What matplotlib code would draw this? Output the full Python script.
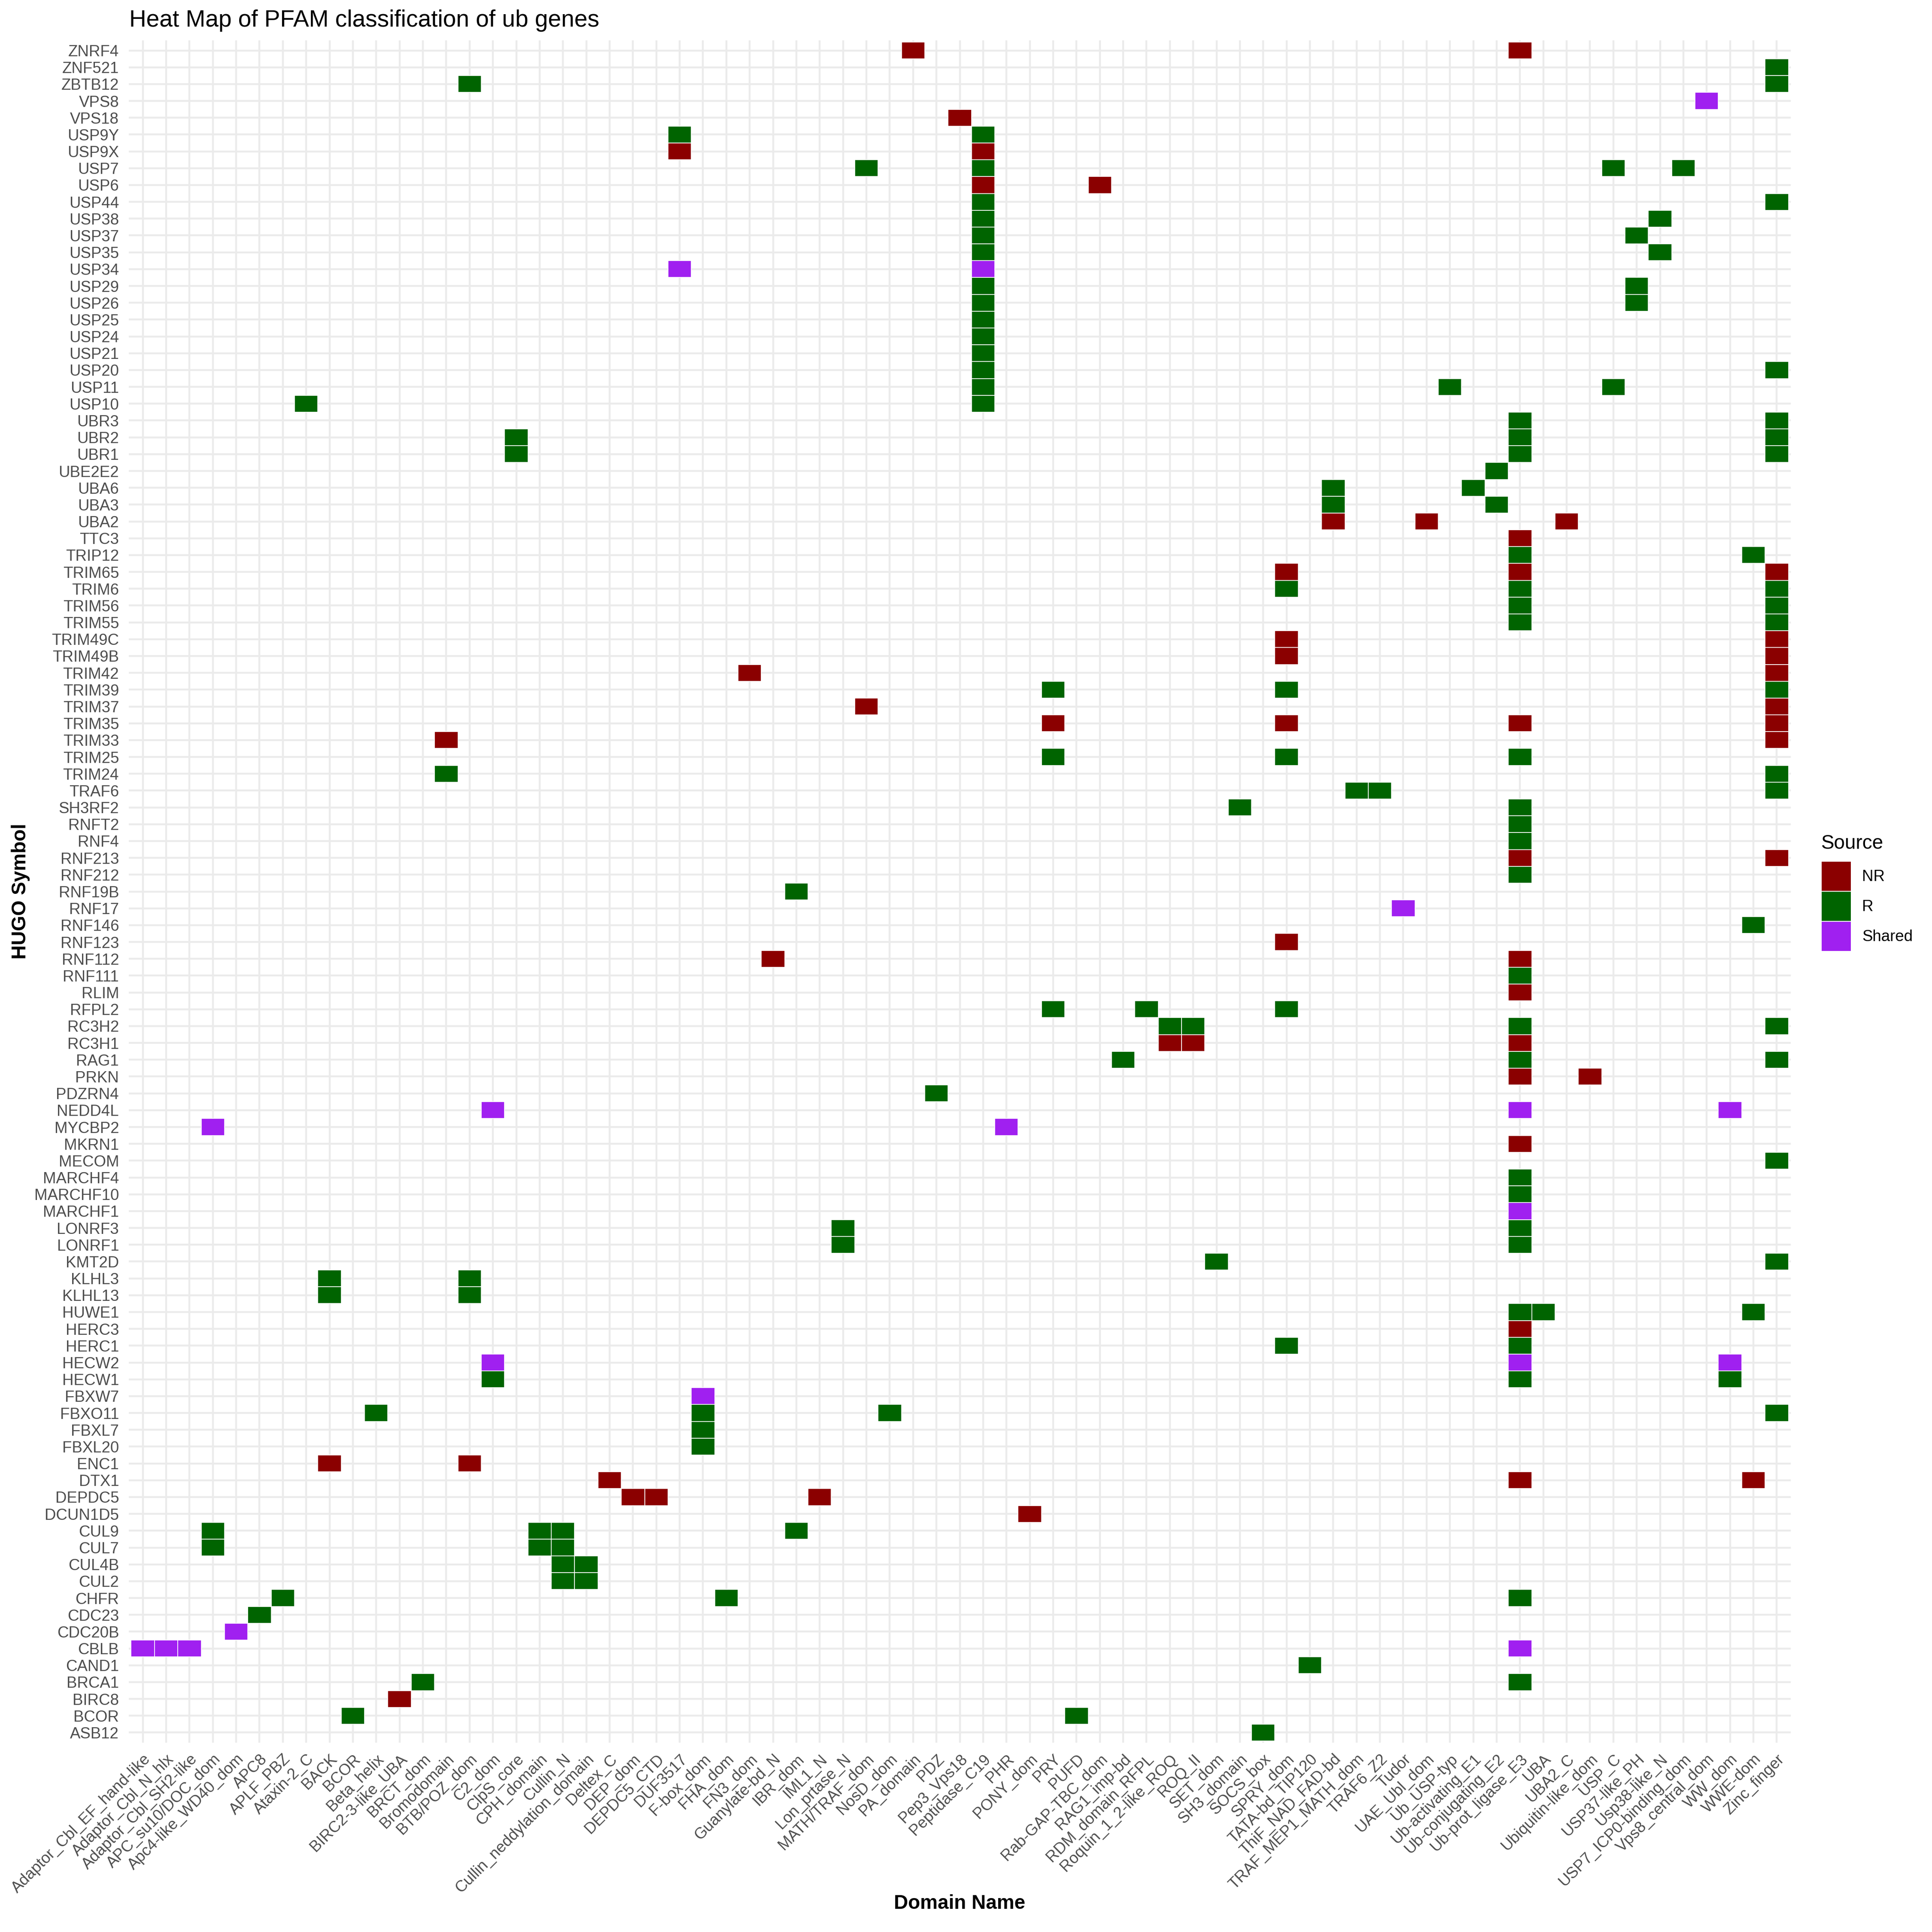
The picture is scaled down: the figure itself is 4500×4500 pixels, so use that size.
import matplotlib
matplotlib.use('Agg')
import matplotlib.pyplot as plt
from matplotlib.patches import Patch

plt.rcParams['font.family'] = ['Liberation Sans', 'DejaVu Sans']

# gene symbols, top row first
genes = ['ZNRF4', 'ZNF521', 'ZBTB12', 'VPS8', 'VPS18', 'USP9Y', 'USP9X', 'USP7', 'USP6', 'USP44',
         'USP38', 'USP37', 'USP35', 'USP34', 'USP29', 'USP26', 'USP25', 'USP24', 'USP21', 'USP20',
         'USP11', 'USP10', 'UBR3', 'UBR2', 'UBR1', 'UBE2E2', 'UBA6', 'UBA3', 'UBA2', 'TTC3',
         'TRIP12', 'TRIM65', 'TRIM6', 'TRIM56', 'TRIM55', 'TRIM49C', 'TRIM49B', 'TRIM42', 'TRIM39', 'TRIM37',
         'TRIM35', 'TRIM33', 'TRIM25', 'TRIM24', 'TRAF6', 'SH3RF2', 'RNFT2', 'RNF4', 'RNF213', 'RNF212',
         'RNF19B', 'RNF17', 'RNF146', 'RNF123', 'RNF112', 'RNF111', 'RLIM', 'RFPL2', 'RC3H2', 'RC3H1',
         'RAG1', 'PRKN', 'PDZRN4', 'NEDD4L', 'MYCBP2', 'MKRN1', 'MECOM', 'MARCHF4', 'MARCHF10', 'MARCHF1',
         'LONRF3', 'LONRF1', 'KMT2D', 'KLHL3', 'KLHL13', 'HUWE1', 'HERC3', 'HERC1', 'HECW2', 'HECW1',
         'FBXW7', 'FBXO11', 'FBXL7', 'FBXL20', 'ENC1', 'DTX1', 'DEPDC5', 'DCUN1D5', 'CUL9', 'CUL7',
         'CUL4B', 'CUL2', 'CHFR', 'CDC23', 'CDC20B', 'CBLB', 'CAND1', 'BRCA1', 'BIRC8', 'BCOR', 'ASB12']

domains = ['Adaptor_Cbl_EF_hand-like', 'Adaptor_Cbl_N_hlx', 'Adaptor_Cbl_SH2-like', 'APC_su10/DOC_dom',
           'Apc4-like_WD40_dom', 'APC8', 'APLF_PBZ', 'Ataxin-2_C', 'BACK', 'BCOR', 'Beta_helix',
           'BIRC2-3-like_UBA', 'BRCT_dom', 'Bromodomain', 'BTB/POZ_dom', 'C2_dom', 'ClpS_core',
           'CPH_domain', 'Cullin_N', 'Cullin_neddylation_domain', 'Deltex_C', 'DEP_dom', 'DEPDC5_CTD',
           'DUF3517', 'F-box_dom', 'FHA_dom', 'FN3_dom', 'Guanylate-bd_N', 'IBR_dom', 'IML1_N',
           'Lon_prtase_N', 'MATH/TRAF_dom', 'NosD_dom', 'PA_domain', 'PDZ', 'Pep3_Vps18', 'Peptidase_C19',
           'PHR', 'PONY_dom', 'PRY', 'PUFD', 'Rab-GAP-TBC_dom', 'RAG1_imp-bd', 'RDM_domain_RFPL',
           'Roquin_1_2-like_ROQ', 'ROQ_II', 'SET_dom', 'SH3_domain', 'SOCS_box', 'SPRY_dom',
           'TATA-bd_TIP120', 'ThiF_NAD_FAD-bd', 'TRAF_MEP1_MATH_dom', 'TRAF6_Z2', 'Tudor', 'UAE_Ubl_dom',
           'Ub_USP-typ', 'Ub-activating_E1', 'Ub-conjugating_E2', 'Ub-prot_ligase_E3', 'UBA', 'UBA2_C',
           'Ubiquitin-like_dom', 'USP_C', 'USP37-like_PH', 'Usp38-like_N', 'USP7_ICP0-binding_dom',
           'Vps8_central_dom', 'WW_dom', 'WWE-dom', 'Zinc_finger']

E3 = 'Ub-prot_ligase_E3'
ZF = 'Zinc_finger'
C19 = 'Peptidase_C19'

nr_cells = [
    ('ZNRF4', 'PA_domain'), ('ZNRF4', E3), ('VPS18', 'Pep3_Vps18'),
    ('USP9X', 'DUF3517'), ('USP9X', C19), ('USP6', C19), ('USP6', 'Rab-GAP-TBC_dom'),
    ('UBA2', 'ThiF_NAD_FAD-bd'), ('UBA2', 'UAE_Ubl_dom'), ('UBA2', 'UBA2_C'), ('TTC3', E3),
    ('TRIM65', 'SPRY_dom'), ('TRIM65', E3), ('TRIM65', ZF),
    ('TRIM49C', 'SPRY_dom'), ('TRIM49C', ZF), ('TRIM49B', 'SPRY_dom'), ('TRIM49B', ZF),
    ('TRIM42', 'FN3_dom'), ('TRIM42', ZF), ('TRIM37', 'MATH/TRAF_dom'), ('TRIM37', ZF),
    ('TRIM35', 'PRY'), ('TRIM35', 'SPRY_dom'), ('TRIM35', E3), ('TRIM35', ZF),
    ('TRIM33', 'Bromodomain'), ('TRIM33', ZF), ('RNF213', E3), ('RNF213', ZF),
    ('RNF123', 'SPRY_dom'), ('RNF112', 'Guanylate-bd_N'), ('RNF112', E3), ('RLIM', E3),
    ('RC3H1', 'Roquin_1_2-like_ROQ'), ('RC3H1', 'ROQ_II'), ('RC3H1', E3),
    ('PRKN', E3), ('PRKN', 'Ubiquitin-like_dom'), ('MKRN1', E3), ('HERC3', E3),
    ('ENC1', 'BACK'), ('ENC1', 'BTB/POZ_dom'),
    ('DTX1', 'Deltex_C'), ('DTX1', E3), ('DTX1', 'WWE-dom'),
    ('DEPDC5', 'DEP_dom'), ('DEPDC5', 'DEPDC5_CTD'), ('DEPDC5', 'IML1_N'),
    ('DCUN1D5', 'PONY_dom'), ('BIRC8', 'BIRC2-3-like_UBA'),
]

r_cells = [
    ('ZNF521', ZF), ('ZBTB12', 'BTB/POZ_dom'), ('ZBTB12', ZF),
    ('USP9Y', 'DUF3517'), ('USP9Y', C19),
    ('USP7', 'MATH/TRAF_dom'), ('USP7', C19), ('USP7', 'USP_C'), ('USP7', 'USP7_ICP0-binding_dom'),
    ('USP44', C19), ('USP44', ZF), ('USP38', C19), ('USP38', 'Usp38-like_N'),
    ('USP37', C19), ('USP37', 'USP37-like_PH'), ('USP35', C19), ('USP35', 'Usp38-like_N'),
    ('USP29', C19), ('USP29', 'USP37-like_PH'), ('USP26', C19), ('USP26', 'USP37-like_PH'),
    ('USP25', C19), ('USP24', C19), ('USP21', C19), ('USP20', C19), ('USP20', ZF),
    ('USP11', C19), ('USP11', 'Ub_USP-typ'), ('USP11', 'USP_C'),
    ('USP10', 'Ataxin-2_C'), ('USP10', C19),
    ('UBR3', E3), ('UBR3', ZF), ('UBR2', 'ClpS_core'), ('UBR2', E3), ('UBR2', ZF),
    ('UBR1', 'ClpS_core'), ('UBR1', E3), ('UBR1', ZF),
    ('UBE2E2', 'Ub-conjugating_E2'), ('UBA6', 'ThiF_NAD_FAD-bd'), ('UBA6', 'Ub-activating_E1'),
    ('UBA3', 'ThiF_NAD_FAD-bd'), ('UBA3', 'Ub-conjugating_E2'),
    ('TRIP12', E3), ('TRIP12', 'WWE-dom'),
    ('TRIM6', 'SPRY_dom'), ('TRIM6', E3), ('TRIM6', ZF),
    ('TRIM56', E3), ('TRIM56', ZF), ('TRIM55', E3), ('TRIM55', ZF),
    ('TRIM39', 'PRY'), ('TRIM39', 'SPRY_dom'), ('TRIM39', ZF),
    ('TRIM25', 'PRY'), ('TRIM25', 'SPRY_dom'), ('TRIM25', E3),
    ('TRIM24', 'Bromodomain'), ('TRIM24', ZF),
    ('TRAF6', 'TRAF_MEP1_MATH_dom'), ('TRAF6', 'TRAF6_Z2'), ('TRAF6', ZF),
    ('SH3RF2', 'SH3_domain'), ('SH3RF2', E3), ('RNFT2', E3), ('RNF4', E3), ('RNF212', E3),
    ('RNF19B', 'IBR_dom'), ('RNF146', 'WWE-dom'), ('RNF111', E3),
    ('RFPL2', 'PRY'), ('RFPL2', 'RDM_domain_RFPL'), ('RFPL2', 'SPRY_dom'),
    ('RC3H2', 'Roquin_1_2-like_ROQ'), ('RC3H2', 'ROQ_II'), ('RC3H2', E3), ('RC3H2', ZF),
    ('RAG1', 'RAG1_imp-bd'), ('RAG1', E3), ('RAG1', ZF),
    ('PDZRN4', 'PDZ'), ('MECOM', ZF), ('MARCHF4', E3), ('MARCHF10', E3),
    ('LONRF3', 'Lon_prtase_N'), ('LONRF3', E3), ('LONRF1', 'Lon_prtase_N'), ('LONRF1', E3),
    ('KMT2D', 'SET_dom'), ('KMT2D', ZF),
    ('KLHL3', 'BACK'), ('KLHL3', 'BTB/POZ_dom'), ('KLHL13', 'BACK'), ('KLHL13', 'BTB/POZ_dom'),
    ('HUWE1', E3), ('HUWE1', 'UBA'), ('HUWE1', 'WWE-dom'),
    ('HERC1', 'SPRY_dom'), ('HERC1', E3),
    ('HECW1', 'C2_dom'), ('HECW1', E3), ('HECW1', 'WW_dom'),
    ('FBXO11', 'Beta_helix'), ('FBXO11', 'F-box_dom'), ('FBXO11', 'NosD_dom'), ('FBXO11', ZF),
    ('FBXL7', 'F-box_dom'), ('FBXL20', 'F-box_dom'),
    ('CUL9', 'APC_su10/DOC_dom'), ('CUL9', 'CPH_domain'), ('CUL9', 'Cullin_N'), ('CUL9', 'IBR_dom'),
    ('CUL7', 'APC_su10/DOC_dom'), ('CUL7', 'CPH_domain'), ('CUL7', 'Cullin_N'),
    ('CUL4B', 'Cullin_N'), ('CUL4B', 'Cullin_neddylation_domain'),
    ('CUL2', 'Cullin_N'), ('CUL2', 'Cullin_neddylation_domain'),
    ('CHFR', 'APLF_PBZ'), ('CHFR', 'FHA_dom'), ('CHFR', E3),
    ('CDC23', 'APC8'), ('CAND1', 'TATA-bd_TIP120'),
    ('BRCA1', 'BRCT_dom'), ('BRCA1', E3),
    ('BCOR', 'BCOR'), ('BCOR', 'PUFD'), ('ASB12', 'SOCS_box'),
]

shared_cells = [
    ('VPS8', 'Vps8_central_dom'), ('USP34', 'DUF3517'), ('USP34', C19), ('RNF17', 'Tudor'),
    ('NEDD4L', 'C2_dom'), ('NEDD4L', E3), ('NEDD4L', 'WW_dom'),
    ('MYCBP2', 'APC_su10/DOC_dom'), ('MYCBP2', 'PHR'), ('MARCHF1', E3),
    ('HECW2', 'C2_dom'), ('HECW2', E3), ('HECW2', 'WW_dom'), ('FBXW7', 'F-box_dom'),
    ('CDC20B', 'Apc4-like_WD40_dom'),
    ('CBLB', 'Adaptor_Cbl_EF_hand-like'), ('CBLB', 'Adaptor_Cbl_N_hlx'),
    ('CBLB', 'Adaptor_Cbl_SH2-like'), ('CBLB', E3),
]

sources = ['NR', 'R', 'Shared']
colors = {'NR': '#8B0000', 'R': '#006400', 'Shared': '#A020F0'}
cells_by_source = {'NR': nr_cells, 'R': r_cells, 'Shared': shared_cells}

W = 4500.0
fig = plt.figure(figsize=(15, 15), dpi=300)
ax = fig.add_axes([300 / W, 1 - 4059 / W, (4171 - 300) / W, (4059 - 94) / W])

# tiles
for src in sources:
    cells = cells_by_source[src]
    xs = [domains.index(d) for g, d in cells]
    ys = [genes.index(g) - 0.5 for g, d in cells]
    ax.bar(xs, 1.0, width=1.0, bottom=ys, color=colors[src],
           edgecolor='white', linewidth=0.4, zorder=2)

ax.set_xlim(-0.6, len(domains) - 0.4)
ax.set_ylim(len(genes) - 0.4, -0.6)
ax.set_xticks(range(len(domains)))
ax.set_xticklabels(domains, rotation=45, ha='right', va='top', rotation_mode='anchor',
                   fontsize=8.8, color='#4D4D4D')
ax.set_yticks(range(len(genes)))
ax.set_yticklabels(genes, fontsize=8.8, color='#4D4D4D')
ax.tick_params(axis='x', length=0, pad=5)
ax.tick_params(axis='y', length=0, pad=5.5)
ax.grid(True, color='#EBEBEB', linewidth=1.07)
ax.set_axisbelow(True)
for s in ax.spines.values():
    s.set_visible(False)

# titles
fig.text(301 / W, 1 - 62 / W, 'Heat Map of PFAM classification of ub genes',
         fontsize=13.2, ha='left', va='baseline')
fig.text((300 + 4171) / 2 / W, 1 - 4446 / W, 'Domain Name', fontsize=11,
         fontweight='bold', ha='center', va='baseline')
fig.text(48 / W, 1 - (94 + 4059) / 2 / W, 'HUGO Symbol', fontsize=11, fontweight='bold',
         rotation=90, ha='center', va='center')

# legend
fig.text(4242 / W, 1 - 1977 / W, 'Source', fontsize=11, ha='left', va='baseline')
handles = [Patch(facecolor=colors[s], edgecolor='white', linewidth=0.5, label=s) for s in sources]
fig.legend(handles=handles, loc='upper left', bbox_to_anchor=(4242 / W, 1 - 2006 / W),
           frameon=False, fontsize=8.8, handlelength=1.91, handleheight=2.56,
           handletextpad=0.68, labelspacing=0, borderpad=0, borderaxespad=0)

fig.savefig('out.png', dpi=300)
